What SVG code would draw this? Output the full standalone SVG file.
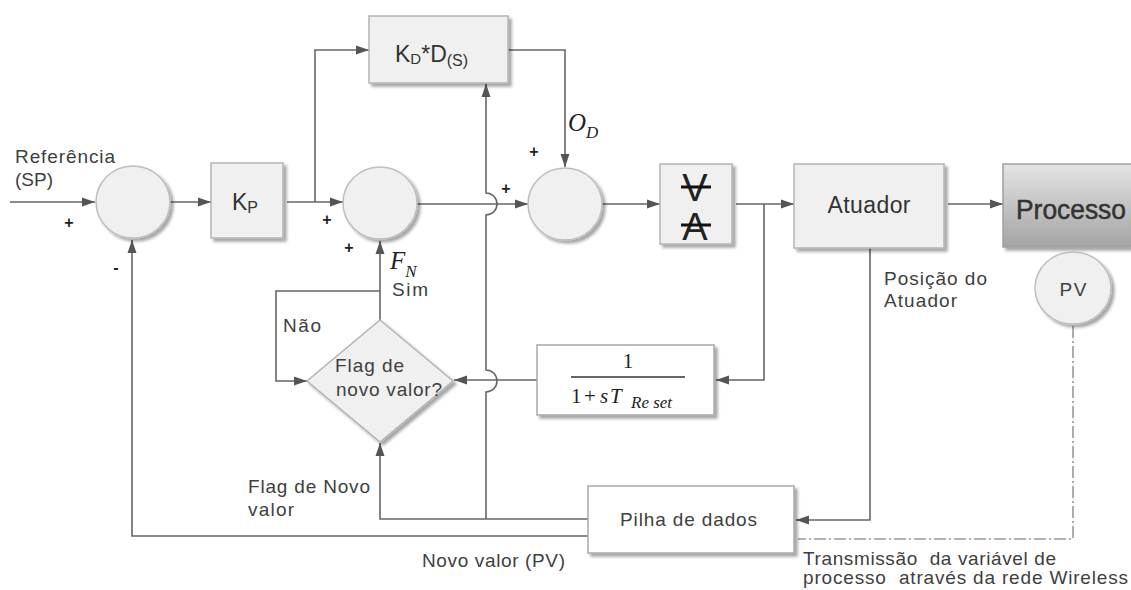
<svg xmlns="http://www.w3.org/2000/svg" width="1131" height="590" viewBox="0 0 1131 590">
<style>
.ln{fill:none;stroke:#666;stroke-width:1.6}
.ar{marker-end:url(#arr)}
.dd{fill:none;stroke:#999;stroke-width:1.6;stroke-dasharray:12 3 2 3}
.box{fill:#f0f0f0;stroke:#b4b4b4;stroke-width:1.5;filter:url(#sh)}
.wbox{fill:#fff;stroke:#a8a8a8;stroke-width:1.5;filter:url(#sh)}
.circ{fill:#f0f0f0;stroke:#bdbdbd;stroke-width:1.5;filter:url(#sh)}
.t{font-family:"Liberation Sans",Arial,sans-serif;fill:#404040;font-size:19px}
.big{font-family:"Liberation Sans",Arial,sans-serif;fill:#333;font-size:23px}
.sign{font-family:"Liberation Sans",Arial,sans-serif;fill:#222;font-size:16px;font-weight:bold;text-anchor:middle}
.m{font-family:"Liberation Serif","Times New Roman",serif;fill:#222}
.bar{stroke:#111;stroke-width:3}
</style>
<defs>
<marker id="arr" markerUnits="userSpaceOnUse" markerWidth="14" markerHeight="10" refX="13" refY="5" orient="auto"><path d="M0,0.5 L13,5 L0,9.5 z" fill="#555"/></marker>
<filter id="sh" x="-20%" y="-20%" width="150%" height="150%"><feDropShadow dx="3" dy="3" stdDeviation="1.6" flood-color="#000" flood-opacity="0.35"/></filter>
<linearGradient id="pg" x1="0" y1="0" x2="0" y2="1"><stop offset="0" stop-color="#e4e4e4"/><stop offset="1" stop-color="#a4a4a4"/></linearGradient>
</defs>

<g id="connectors">
<path class="ln ar" d="M10,202 H95"/>
<path class="ln ar" d="M170,202 H211"/>
<path class="ln ar" d="M287,202 H343"/>
<path class="ln ar" d="M315,202 V50 H369"/>
<path class="ln ar" d="M508,50 H565 V167"/>
<path class="ln ar" d="M417,204 H528"/>
<path class="ln ar" d="M602,204 H660"/>
<path class="ln ar" d="M736,204 H794"/>
<path class="ln ar" d="M764,204 V380 H716"/>
<path class="ln ar" d="M948,204 H1003"/>
<path class="ln ar" d="M870,248 V520 H796"/>
<path class="dd" d="M1073,326 V539 H798"/>
<path class="ln ar" d="M537,380 H454"/>
<path class="ln ar" d="M380,291 H276 V381 H307"/>
<path class="ln ar" d="M380,320 V241"/>
<path class="ln ar" d="M588,519 H380 V443"/>
<path class="ln ar" d="M588,536 H132 V240"/>
<path class="ln ar" d="M486,519 V392 A11,11 0 0 0 486,370 V215 A11,11 0 0 0 486,193 V84"/>
</g>

<g id="labels">
<text class="t" x="15" y="163" textLength="100">Referência</text>
<text class="t" x="15" y="186" textLength="38">(SP)</text>
<text class="sign" x="69" y="228">+</text>
<text class="sign" x="116" y="273" font-size="26">-</text>
<text class="sign" x="327" y="225">+</text>
<text class="sign" x="349" y="253">+</text>
<text class="sign" x="506" y="194">+</text>
<text class="sign" x="534" y="157">+</text>
<text class="m" x="568" y="131" font-size="25" font-style="italic">O<tspan font-size="17" dy="7">D</tspan></text>
<text class="m" x="390" y="269" font-size="25" font-style="italic">F<tspan font-size="17" dy="8">N</tspan></text>
<text class="t" x="392" y="296" textLength="36">Sim</text>
<text class="t" x="283" y="332" textLength="38">Não</text>
<text class="t" x="248" y="493" textLength="122">Flag de Novo</text>
<text class="t" x="248" y="516" textLength="46">valor</text>
<text class="t" x="422" y="567" textLength="143">Novo valor (PV)</text>
<text class="t" x="884" y="285" textLength="103">Posição do</text>
<text class="t" x="884" y="307" textLength="73">Atuador</text>
<text class="t" x="803" y="565" textLength="253" xml:space="preserve">Transmissão  da variável de</text>
<text class="t" x="803" y="584" textLength="325" xml:space="preserve">processo  através da rede Wireless</text>
</g>

<g id="sum1"><ellipse class="circ" cx="133" cy="202" rx="37" ry="36"/></g>
<g id="kp"><rect class="box" x="211" y="163" width="72" height="75"/>
<text class="big" x="232" y="210" font-size="25">K<tspan font-size="16" dy="3">P</tspan></text></g>
<g id="sum2"><ellipse class="circ" cx="380" cy="203" rx="37" ry="36"/></g>
<g id="kd"><rect class="box" x="369" y="16" width="139" height="67"/>
<text class="big" x="395" y="62">K<tspan font-size="15" dy="2">D</tspan><tspan dy="-2">*D</tspan><tspan font-size="16" dy="4">(S)</tspan></text></g>
<g id="sum3"><ellipse class="circ" cx="565" cy="204" rx="37" ry="36"/></g>
<g id="sat"><rect class="box" x="660" y="164" width="72" height="80"/>
<text x="695" y="201" font-family="Liberation Sans, Arial, sans-serif" font-size="38" fill="#222" text-anchor="middle">V</text>
<text x="695" y="240" font-family="Liberation Sans, Arial, sans-serif" font-size="38" fill="#222" text-anchor="middle">A</text>
<line class="bar" x1="681" y1="187" x2="711" y2="187"/>
<line class="bar" x1="681" y1="225" x2="711" y2="225"/></g>
<g id="atuador"><rect class="box" x="794" y="164" width="150" height="84"/>
<text class="big" x="869" y="213" text-anchor="middle" textLength="83">Atuador</text></g>
<g id="processo"><rect x="1003" y="164" width="140" height="83" fill="url(#pg)" stroke="#a0a0a0" stroke-width="1.5" filter="url(#sh)"/>
<text x="1016" y="219" font-family="Liberation Sans, Arial, sans-serif" font-size="27" fill="#333" stroke="#333" stroke-width="0.5" textLength="110" lengthAdjust="spacingAndGlyphs">Processo</text></g>
<g id="pv"><ellipse class="circ" cx="1073" cy="288" rx="38" ry="36"/>
<text class="t" x="1073" y="296" text-anchor="middle" font-size="19" textLength="27">PV</text></g>
<g id="reset"><rect class="wbox" x="537" y="345" width="177" height="70"/>
<text class="m" x="628" y="368" font-size="21" text-anchor="middle">1</text>
<line x1="571" y1="377" x2="685" y2="377" stroke="#333" stroke-width="1.5"/>
<text class="m" y="403" font-size="21"><tspan x="571">1</tspan><tspan x="584">+</tspan><tspan x="600" font-style="italic">s</tspan><tspan x="610" font-style="italic">T</tspan><tspan x="631" y="408" font-size="17" font-style="italic">Re set</tspan></text></g>
<g id="flag"><polygon class="box" points="380,320 453,381 380,442 307,381" stroke="#c4c4c4"/>
<text class="t" x="335" y="372" textLength="69">Flag de</text>
<text class="t" x="336" y="396" textLength="106">novo valor?</text></g>
<g id="pilha"><rect class="wbox" x="588" y="486" width="206" height="67"/>
<text class="t" x="620" y="526" textLength="137">Pilha de dados</text></g>
</svg>
